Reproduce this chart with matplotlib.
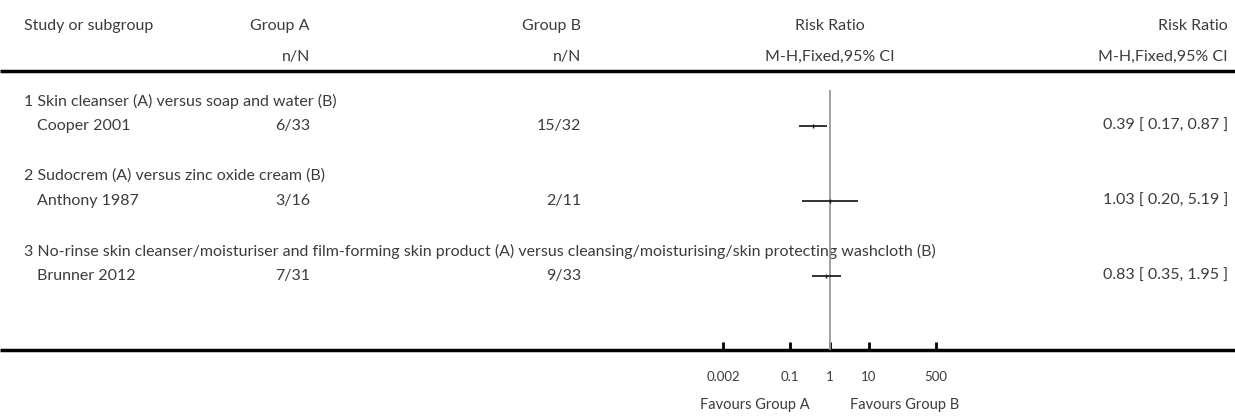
import numpy as np
import matplotlib
matplotlib.use("Agg")
import matplotlib.pyplot as plt

plt.rcParams['font.family'] = ['Lato', 'DejaVu Sans']
plt.rcParams['text.color'] = '#3c3c3c'
plt.rcParams['xtick.labelcolor'] = '#3c3c3c'

# data
groups = ['1 Skin cleanser (A) versus soap and water (B)',
          '2 Sudocrem (A) versus zinc oxide cream (B)',
          '3 No-rinse skin cleanser/moisturiser and film-forming skin product (A) versus cleansing/moisturising/skin protecting washcloth (B)']
studies = ['Cooper 2001', 'Anthony 1987', 'Brunner 2012']
group_a = ['6/33', '3/16', '7/31']
group_b = ['15/32', '2/11', '9/33']
rr = [0.39, 1.03, 0.83]
ci_low = [0.17, 0.20, 0.35]
ci_high = [0.87, 5.19, 1.95]
ticks = [0.002, 0.1, 1, 10, 500]
tick_labels = ['0.002', '0.1', '1', '10', '500']

W, H = 1235, 416
fig = plt.figure(figsize=(W / 100, H / 100), dpi=100)

bg = fig.add_axes([0, 0, 1, 1])
bg.set_xlim(0, W)
bg.set_ylim(H, 0)
bg.axis('off')

fs = 11.5
def row_y(i):
    return 101 + 25 * i

# header
bg.text(24, 26, 'Study or subgroup', fontsize=fs, va='center', ha='left')
bg.text(310, 26, 'Group A', fontsize=fs, va='center', ha='right')
bg.text(581, 26, 'Group B', fontsize=fs, va='center', ha='right')
bg.text(830, 26, 'Risk Ratio', fontsize=fs, va='center', ha='center')
bg.text(1228, 26, 'Risk Ratio', fontsize=fs, va='center', ha='right')
bg.text(310, 57, 'n/N', fontsize=fs, va='center', ha='right')
bg.text(581, 57, 'n/N', fontsize=fs, va='center', ha='right')
bg.text(830, 57, 'M-H,Fixed,95% CI', fontsize=fs, va='center', ha='center')
bg.text(1228, 57, 'M-H,Fixed,95% CI', fontsize=fs, va='center', ha='right')
bg.plot([0, W], [71, 71], color='black', lw=2.5, solid_capstyle='butt')
bg.plot([0, W], [350, 350], color='black', lw=2.5, solid_capstyle='butt')

rows = []
for k in range(len(studies)):
    gi = 3 * k
    si = 3 * k + 1
    rows.append(si)
    bg.text(24, row_y(gi), groups[k], fontsize=fs, va='center', ha='left')
    bg.text(37, row_y(si), studies[k], fontsize=fs, va='center', ha='left')
    bg.text(310, row_y(si), group_a[k], fontsize=fs, va='center', ha='right')
    bg.text(581, row_y(si), group_b[k], fontsize=fs, va='center', ha='right')
    bg.text(1228, row_y(si), '%.2f [ %.2f, %.2f ]' % (rr[k], ci_low[k], ci_high[k]),
            fontsize=fs, va='center', ha='right')

bg.text(810, 405, 'Favours Group A', fontsize=10.5, va='center', ha='right')
bg.text(850, 405, 'Favours Group B', fontsize=10.5, va='center', ha='left')

# forest panel
x0, x1, ytop, ybot = 723, 936, 90, 350
ax = fig.add_axes([x0 / W, 1 - ybot / H, (x1 - x0) / W, (ybot - ytop) / H])
ax.set_xscale('log')
ax.set_xlim(0.002, 500)
ax.set_ylim((ybot - 101) / 25, (ytop - 101) / 25)
ax.patch.set_alpha(0)
for s in ['top', 'right', 'left', 'bottom']:
    ax.spines[s].set_visible(False)
ax.axvline(1, color='#9a9a9a', lw=1.3)
ax.hlines(rows, ci_low, ci_high, color='#111111', lw=1.2)
ax.plot(rr, rows, ls='none', marker='|', ms=3, mew=1.0, color='#111111')
ax.set_yticks([])
ax.set_xticks(ticks)
ax.set_xticklabels(tick_labels, fontsize=9.5)
ax.xaxis.set_minor_locator(matplotlib.ticker.NullLocator())
ax.tick_params(axis='x', direction='in', length=6, width=2, pad=15, color='black')

fig.savefig('out.png', dpi=100)
